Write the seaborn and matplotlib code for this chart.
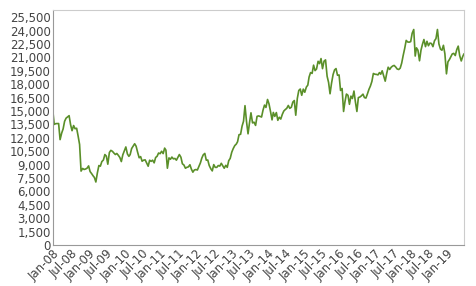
import matplotlib
matplotlib.use("Agg")
import matplotlib.pyplot as plt
import matplotlib.dates as mdates
from matplotlib.ticker import FuncFormatter
import seaborn as sns
import pandas as pd

years = list(range(2008, 2020))
# two readings per month: mid-month and month-end
v2008 = [13500, 13590, 13600, 13600, 11800, 12525, 13000, 13850, 14200, 14340, 14480, 13480,
         12800, 13376, 13020, 13072, 12200, 11259, 8280, 8576, 8460, 8512, 8600, 8860]
v2009 = [8230, 7994, 7750, 7568, 7060, 8110, 8900, 8830, 9340, 9520, 10130, 9958,
         9050, 10356, 10600, 10492, 10300, 10133, 10250, 10034, 9800, 9345, 10100, 10546]
v2010 = [10980, 10198, 9930, 10126, 10800, 11089, 11340, 11057, 10400, 9768, 9900, 9382,
         9500, 9537, 9200, 8824, 9500, 9369, 9500, 9202, 9800, 9937, 10300, 10228]
v2011 = [10500, 10237, 10850, 10624, 8600, 9755, 9600, 9849, 9650, 9693, 9500, 9816,
         10130, 9833, 9100, 8955, 8600, 8700, 8750, 8988, 8500, 8160, 8400, 8455]
v2012 = [8400, 8802, 9200, 9723, 10100, 10255, 9500, 9520, 8900, 8542, 8300, 9006,
         8700, 8695, 8900, 8839, 9150, 8870, 8600, 8928, 8700, 9446, 9700, 10395]
v2013 = [10800, 11138, 11300, 11559, 12350, 12397, 13300, 13860, 15600, 13774, 12450, 13677,
         14800, 13668, 13750, 13389, 14400, 14455, 14400, 14327, 15100, 15662, 15400, 16291]
v2014 = [15800, 14914, 14010, 14841, 14400, 14828, 13960, 14304, 14100, 14632, 15000, 15162,
         15300, 15621, 15300, 15425, 16000, 16174, 14530, 16414, 17300, 17460, 16760, 17451]
v2015 = [17100, 17674, 17900, 18798, 19300, 19207, 20130, 19520, 19700, 20563, 20300, 20868,
         19740, 20585, 20720, 18890, 18200, 16930, 18100, 19083, 19600, 19747, 19000, 19034]
v2016 = [17300, 17518, 14950, 16027, 16900, 16759, 15750, 16666, 16400, 17235, 16000, 14950,
         16500, 16569, 16700, 16887, 16500, 16450, 16900, 17425, 17800, 18308, 19200, 19114]
v2017 = [19100, 19041, 19300, 19119, 19500, 18909, 18340, 19197, 19900, 19651, 19900, 20033,
         20100, 19925, 19700, 19646, 19800, 20356, 21200, 22012, 22900, 22725, 22700, 22765]
v2018 = [23700, 24120, 21150, 22068, 21800, 20620, 21800, 22468, 23000, 22202, 22800, 22305,
         22600, 22554, 22200, 22865, 23100, 24120, 22500, 21920, 21800, 22351, 21400, 19160]
v2019 = [20500, 20773, 21100, 21385, 21450, 21206, 21870, 22259, 21200, 20601, 21100, 21400]
series_by_year = [v2008, v2009, v2010, v2011, v2012, v2013, v2014, v2015, v2016, v2017, v2018, v2019]
start_value = 14690
y_ticks = list(range(0, 25501, 1500))

dates = [pd.Timestamp("2008-01-04")]
values = [start_value]
for yr, vals in zip(years, series_by_year):
    for i, v in enumerate(vals):
        month = i // 2 + 1
        if i % 2 == 0:
            d = pd.Timestamp(year=yr, month=month, day=15)
        else:
            d = pd.Timestamp(year=yr, month=month, day=1) + pd.offsets.MonthEnd(0)
        if d > pd.Timestamp("2019-06-28"):
            d = pd.Timestamp("2019-06-28")
        dates.append(d)
        values.append(v)

df = pd.DataFrame({"date": dates, "value": values})

sns.set_theme(style="white")
fig = plt.figure(figsize=(4.76, 2.86), dpi=100)
ax = fig.add_axes([0.111, 0.143, 0.864, 0.822])
sns.lineplot(data=df, x="date", y="value", ax=ax, color="#5a8f29", linewidth=1.2)

ax.set_xlim(pd.Timestamp("2008-01-01"), pd.Timestamp("2019-06-29"))
ax.set_ylim(0, 26300)
ax.set_yticks(y_ticks)
ax.yaxis.set_major_formatter(FuncFormatter(lambda v, p: f"{int(v):,}"))
ax.xaxis.set_major_locator(mdates.MonthLocator(bymonth=[1, 7]))
ax.xaxis.set_major_formatter(mdates.DateFormatter("%b-%y"))
ax.set_xlabel("")
ax.set_ylabel("")
ax.tick_params(axis="both", length=0, pad=1.5, labelsize=8.5, labelcolor="#444444")
for lbl in ax.get_xticklabels():
    lbl.set_rotation(45)
    lbl.set_ha("right")
    lbl.set_rotation_mode("anchor")
for side in ["left", "bottom"]:
    ax.spines[side].set_color("#999999")
for side in ["top", "right"]:
    ax.spines[side].set_color("#cccccc")
for s in ax.spines.values():
    s.set_linewidth(0.8)

fig.savefig("out.png", dpi=100)
